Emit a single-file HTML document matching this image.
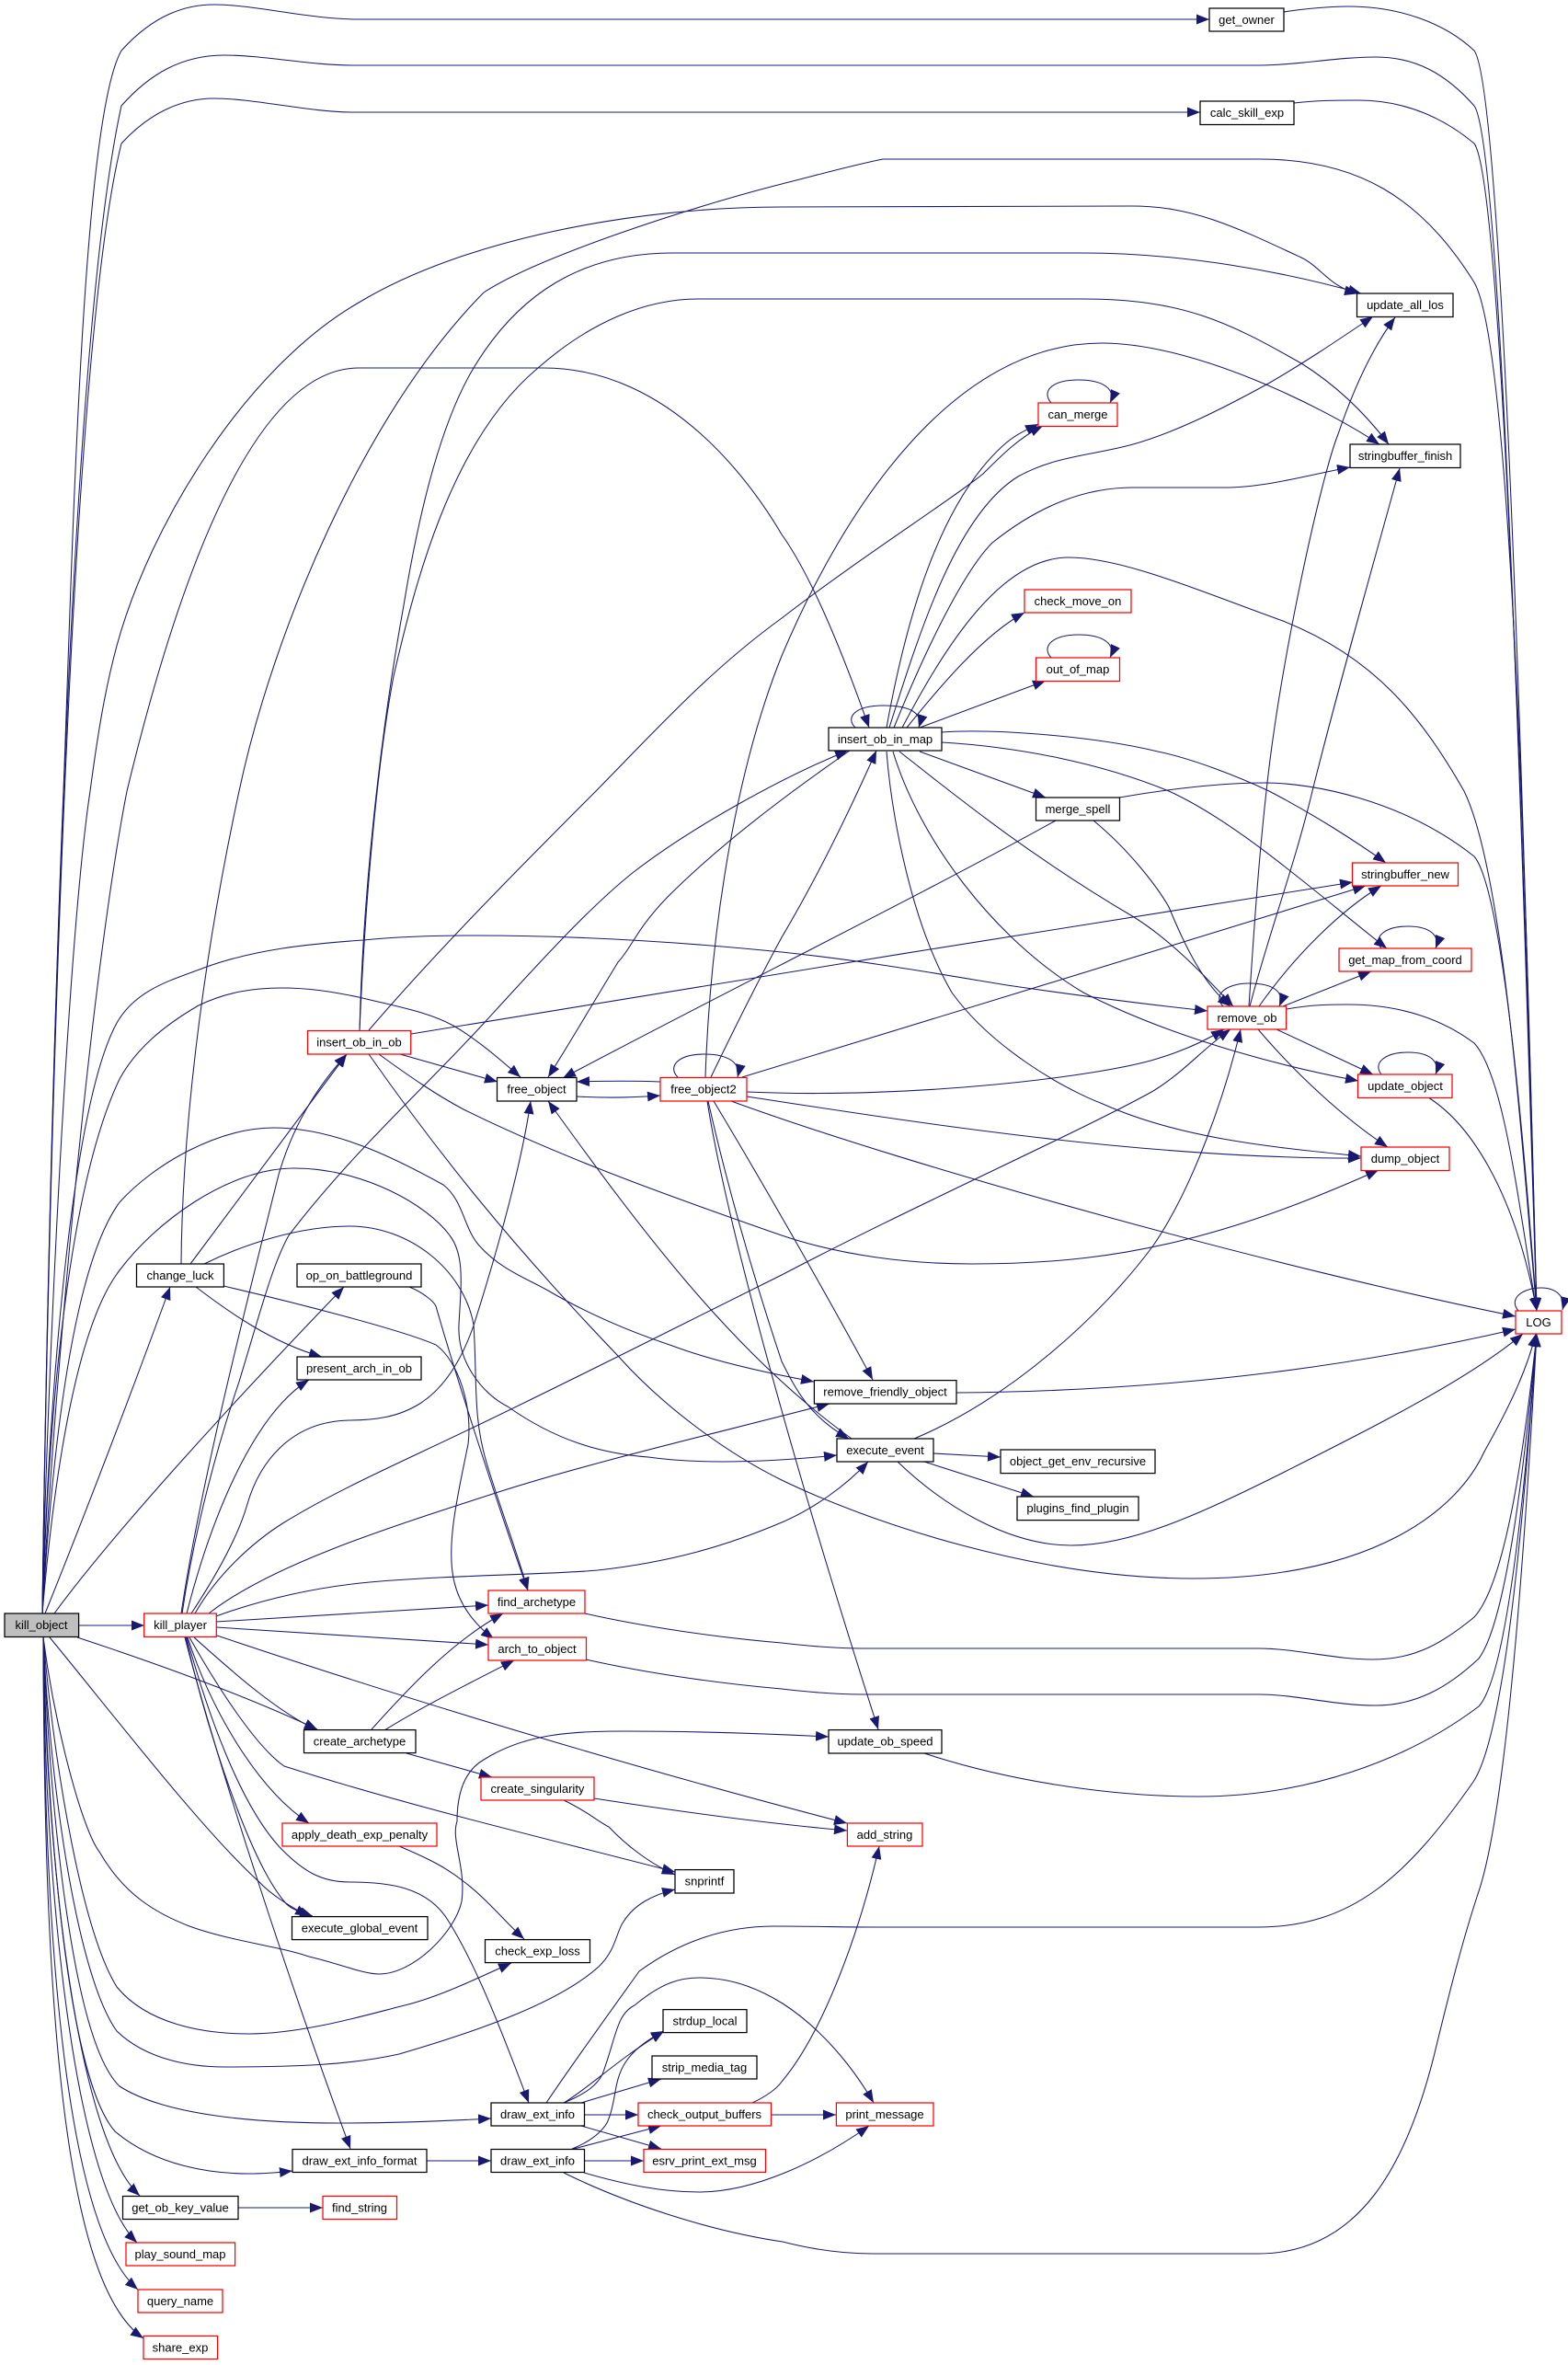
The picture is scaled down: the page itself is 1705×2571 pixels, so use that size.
<!DOCTYPE html>
<html><head><meta charset="utf-8"><style>
html,body{margin:0;padding:0;background:#fff;width:1705px;height:2571px;overflow:hidden}
svg{display:block}
text{font-family:"Liberation Sans",sans-serif;font-size:13px;text-anchor:middle;fill:#000}
.e path{fill:none;stroke:#191970;stroke-width:1.05}
.b{fill:#fff;stroke:#000;stroke-width:1.25}
.r{fill:#fff;stroke:#f00;stroke-width:1.25}
</style></head><body>
<svg xmlns="http://www.w3.org/2000/svg" width="1705" height="2571" viewBox="0 0 1705 2571">
<defs><marker id="a" markerUnits="userSpaceOnUse" markerWidth="15" markerHeight="12" refX="14" refY="5.500" orient="auto"><polygon points="0,0 14,5.500 0,11" fill="#191970"/></marker></defs>
<g class="e" marker-end="url(#a)">
<path marker-end="url(#a)" d="M46,1754 C49,1500 59,1100 69,860 C79,600 89,130 132,55 C168,15 203,5 233,5 C277,5 336,21 390,21 L1315,21"/>
<path marker-end="url(#a)" d="M46,1754 C51,1400 69,400 132,115 C163,80 198,60 244,60 C287,60 336,71 384,71 L1370,71 C1409,71 1454,62 1496,62 C1539,62 1572,80 1603,115 C1636,160 1660,1100 1671,1425"/>
<path marker-end="url(#a)" d="M1396,13 C1421,9 1449,7 1466,7 C1522,7 1571,25 1603,55 C1636,100 1660,1000 1671,1425"/>
<path marker-end="url(#a)" d="M46,1754 C51,1400 71,400 132,156 C163,122 198,107 233,107 C277,107 336,122 384,122 L1305,122"/>
<path marker-end="url(#a)" d="M1407,112 C1432,109 1455,109 1477,109 C1530,109 1572,130 1603,156 C1636,200 1660,1050 1671,1425"/>
<path marker-end="url(#a)" d="M46,1754 C51,1500 74,1020 98,860 C106,800 114,750 127,702 C163,570 267,400 390,329 C504,260 692,225 850,225 L1230,224 C1296,224 1340,245 1415,280 C1436,290 1446,312 1476,319"/>
<path marker-end="url(#a)" d="M197,1374 C198,1240 217,1060 260,860 C296,690 395,450 526,318 C583,280 751,225 850,200 C890,190 925,180 960,173 L1370,173 C1476,173 1546,215 1603,307 C1645,380 1660,1000 1671,1425"/>
<path marker-end="url(#a)" d="M46,1754 C59,1500 99,1060 138,860 C173,715 257,400 390,400 L591,400 C731,400 820,530 850,581 C885,630 920,720 945,791"/>
<path marker-end="url(#a)" d="M391,1120 C395,960 415,790 439,658 C455,560 479,460 515,400 C563,320 632,275 731,275 L1177,275 C1286,275 1395,295 1480,319"/>
<path marker-end="url(#a)" d="M391,1120 C397,980 410,830 428,735 C450,640 489,480 585,400 C642,350 702,325 759,325 L1177,325 C1286,325 1336,350 1415,395 C1455,420 1485,450 1510,483"/>
<path marker-end="url(#a)" d="M401,1120 C474,1035 563,945 648,860 C712,795 770,730 850,672 C930,610 1039,540 1069,515 C1089,495 1109,475 1134,463"/>
<path marker-end="url(#a)" d="M767,1171 C771,1050 791,860 850,713 C919,550 1037,373 1198,373 C1297,373 1435,440 1500,483"/>
<path marker-end="url(#a)" d="M198,1754 C212,1660 237,1570 260,1502 C282,1430 296,1375 314,1343 C385,1250 465,1180 531,1107 C583,1050 642,985 689,948 C751,900 850,845 922,816"/>
<path marker-end="url(#a)" d="M212,1754 C237,1710 277,1675 309,1655 C366,1620 435,1590 510,1554 C623,1500 731,1445 850,1386 C995,1310 1175,1230 1254,1186 C1288,1165 1308,1140 1338,1119"/>
<path marker-end="url(#a)" d="M227,1754 C296,1700 425,1660 542,1622 C642,1590 771,1560 902,1526"/>
<path marker-end="url(#a)" d="M235,1757 C287,1738 346,1725 402,1720 C494,1712 593,1712 650,1707 C731,1698 791,1680 850,1655 C885,1640 920,1615 944,1589"/>
<path marker-end="url(#a)" d="M46,1754 C54,1500 79,1200 127,1112 C148,1075 188,1065 222,1052 C277,1032 336,1026 395,1022 C435,1018 474,1017 515,1017 C632,1017 751,1025 850,1035 C945,1045 1028,1060 1095,1071 C1178,1083 1248,1092 1313,1099"/>
<path marker-end="url(#a)" d="M46,1754 C54,1500 79,1280 130,1173 C148,1140 178,1115 216,1093 C247,1078 277,1074 306,1074 C336,1074 361,1078 390,1084 C435,1095 465,1100 493,1115 C519,1130 544,1152 566,1171"/>
<path marker-end="url(#a)" d="M46,1754 C59,1540 84,1370 130,1307 C168,1265 237,1226 298,1226 C366,1226 435,1262 482,1288 C504,1305 504,1335 521,1354 C544,1380 573,1390 596,1403 C642,1430 692,1450 731,1463 C771,1478 820,1490 885,1502"/>
<path marker-end="url(#a)" d="M46,1754 C59,1600 84,1440 130,1381 C168,1330 247,1270 320,1270 C395,1270 465,1310 489,1343 C506,1365 501,1400 499,1440 C497,1480 524,1515 552,1529 C603,1565 652,1580 705,1584 C761,1592 830,1590 910,1582"/>
<path marker-end="url(#a)" d="M222,1374 C267,1352 326,1333 380,1333 C445,1333 504,1380 515,1440 C519,1500 514,1540 529,1590 C544,1640 560,1680 574,1729"/>
<path marker-end="url(#a)" d="M445,1399 C460,1405 472,1415 474,1420 C494,1490 539,1630 574,1729"/>
<path marker-end="url(#a)" d="M243,1398 C316,1415 435,1445 474,1462 C499,1480 514,1530 509,1570 C499,1620 484,1680 494,1720 C500,1745 515,1765 537,1782"/>
<path marker-end="url(#a)" d="M213,1399 C247,1425 296,1460 350,1475"/>
<path marker-end="url(#a)" d="M207,1374 L377,1146"/>
<path marker-end="url(#a)" d="M49,1754 C99,1630 148,1500 185,1399"/>
<path marker-end="url(#a)" d="M59,1754 C128,1660 267,1510 374,1399"/>
<path marker-end="url(#a)" d="M197,1754 C217,1620 262,1440 303,1277 C321,1215 351,1175 377,1146"/>
<path marker-end="url(#a)" d="M203,1754 C227,1660 272,1540 336,1500"/>
<path marker-end="url(#a)" d="M208,1754 C237,1710 259,1670 269,1635 C282,1590 316,1545 380,1544 C435,1544 484,1530 515,1441 C544,1350 568,1260 577,1197"/>
<path marker-end="url(#a)" d="M47,1780 C60,1880 90,1990 108,2013 C135,2060 170,2080 206,2094 C250,2110 300,2115 336,2127 C370,2135 395,2146 412,2146 C450,2146 495,2100 502,2067 C507,2030 490,2000 497,1980 C497,1950 505,1925 526,1913 C570,1885 620,1882 680,1882 C750,1882 820,1884 901,1888"/>
<path marker-end="url(#a)" d="M54,1780 C120,1860 220,1990 282,2046 C295,2060 315,2072 335,2083"/>
<path marker-end="url(#a)" d="M84,1780 C160,1805 260,1840 345,1880"/>
<path marker-end="url(#a)" d="M86,1767 L157,1767"/>
<path marker-end="url(#a)" d="M47,1780 C60,1930 90,2100 127,2160 C160,2200 220,2211 271,2211 C330,2211 400,2190 440,2180 C480,2170 520,2150 556,2134"/>
<path marker-end="url(#a)" d="M47,1780 C55,1950 85,2150 127,2208 C160,2240 210,2247 244,2247 C320,2247 380,2245 434,2233 C530,2205 610,2175 651,2138 C670,2120 670,2100 678,2089 C690,2070 710,2060 734,2054"/>
<path marker-end="url(#a)" d="M47,1780 C55,1980 80,2220 130,2268 C180,2300 280,2308 369,2308 C430,2308 480,2306 534,2303"/>
<path marker-end="url(#a)" d="M47,1780 C52,2000 75,2260 125,2317 C170,2355 230,2363 271,2363 C285,2363 300,2362 318,2360"/>
<path marker-end="url(#a)" d="M47,1780 C50,2000 80,2320 152,2387"/>
<path marker-end="url(#a)" d="M47,1780 C48,2050 80,2370 149,2438"/>
<path marker-end="url(#a)" d="M47,1780 C48,2100 70,2420 150,2489"/>
<path marker-end="url(#a)" d="M47,1780 C48,2150 65,2480 156,2542"/>
<path marker-end="url(#a)" d="M235,1763 L531,1745"/>
<path marker-end="url(#a)" d="M235,1769 L531,1788"/>
<path marker-end="url(#a)" d="M211,1780 C250,1815 300,1860 345,1881"/>
<path marker-end="url(#a)" d="M236,1778 C450,1850 700,1925 921,1982"/>
<path marker-end="url(#a)" d="M206,1780 C240,1840 280,1900 309,1920 C450,1965 600,2000 734,2035"/>
<path marker-end="url(#a)" d="M204,1780 C230,1860 280,1945 336,1982"/>
<path marker-end="url(#a)" d="M202,1780 C225,1880 270,2020 309,2067 C315,2075 325,2078 340,2083"/>
<path marker-end="url(#a)" d="M203,1780 C225,1860 260,1960 304,2008 C330,2035 350,2046 380,2046 C420,2046 465,2050 488,2089 C520,2140 550,2220 575,2286"/>
<path marker-end="url(#a)" d="M201,1780 C240,1930 320,2170 381,2336"/>
<path marker-end="url(#a)" d="M435,1146 L541,1176"/>
<path marker-end="url(#a)" d="M447,1124 C692,1085 1197,1000 1471,959"/>
<path marker-end="url(#a)" d="M401,1146 C474,1250 553,1350 672,1474 C722,1530 791,1580 850,1609 C945,1655 1127,1716 1297,1716 C1496,1716 1586,1640 1614,1578 C1641,1530 1660,1490 1670,1450"/>
<path marker-end="url(#a)" d="M412,1146 C445,1170 474,1190 504,1206 C613,1260 741,1305 850,1343 C915,1365 988,1374 1057,1374 C1149,1374 1219,1365 1287,1348 C1367,1328 1436,1300 1499,1272"/>
<path marker-end="url(#a)" d="M627,1192 C662,1194 692,1193 718,1191"/>
<path marker-end="url(#a)" d="M718,1176 C692,1175 662,1175 627,1176"/>
<path marker-end="url(#a)" d="M737,1171 C726,1160 736,1146 766,1146 C791,1146 806,1155 802,1171"/>
<path marker-end="url(#a)" d="M773,1171 C800,1115 825,1065 850,1019 C885,960 920,890 953,816"/>
<path marker-end="url(#a)" d="M807,1171 C995,1115 1297,1020 1485,963"/>
<path marker-end="url(#a)" d="M812,1187 C995,1195 1197,1170 1258,1151 C1288,1142 1313,1130 1331,1119"/>
<path marker-end="url(#a)" d="M812,1192 C995,1220 1246,1260 1480,1259"/>
<path marker-end="url(#a)" d="M795,1197 C995,1270 1395,1380 1648,1431"/>
<path marker-end="url(#a)" d="M776,1197 C820,1270 895,1400 949,1500"/>
<path marker-end="url(#a)" d="M770,1197 C791,1290 820,1390 850,1480 C865,1510 880,1540 923,1564"/>
<path marker-end="url(#a)" d="M769,1197 C790,1330 865,1600 955,1880"/>
<path marker-end="url(#a)" d="M926,1564 C795,1470 692,1330 596,1197"/>
<path marker-end="url(#a)" d="M994,1564 C1099,1520 1198,1430 1254,1354 C1298,1290 1332,1190 1349,1119"/>
<path marker-end="url(#a)" d="M1015,1580 L1088,1584"/>
<path marker-end="url(#a)" d="M1005,1589 L1124,1627"/>
<path marker-end="url(#a)" d="M976,1589 C1029,1640 1099,1680 1165,1680 C1228,1680 1297,1650 1397,1600 C1496,1550 1596,1500 1656,1450"/>
<path marker-end="url(#a)" d="M1040,1514 C1298,1512 1496,1480 1648,1445"/>
<path marker-end="url(#a)" d="M930,791 C919,780 929,767 961,767 C989,767 1004,775 999,791"/>
<path marker-end="url(#a)" d="M964,791 C984,680 1019,550 1090,485 C1104,472 1119,466 1129,461"/>
<path marker-end="url(#a)" d="M967,791 C999,690 1039,560 1107,518 C1149,495 1189,495 1232,483 C1278,470 1328,445 1379,417 C1417,395 1447,375 1493,344"/>
<path marker-end="url(#a)" d="M972,791 C1009,700 1049,620 1079,590 C1129,550 1179,530 1232,530 C1288,530 1298,530 1331,530 C1378,530 1428,515 1468,508"/>
<path marker-end="url(#a)" d="M981,791 C1029,700 1089,606 1162,606 C1219,606 1298,640 1395,675 C1496,715 1546,780 1592,860 C1636,950 1655,1250 1671,1425"/>
<path marker-end="url(#a)" d="M986,791 C1019,750 1069,690 1114,666"/>
<path marker-end="url(#a)" d="M1000,791 L1137,740"/>
<path marker-end="url(#a)" d="M1143,715 C1132,703 1144,690 1173,690 C1199,690 1214,700 1207,715"/>
<path marker-end="url(#a)" d="M1143,438 C1132,425 1144,413 1173,413 C1199,413 1214,423 1207,438"/>
<path marker-end="url(#a)" d="M1000,817 L1137,867"/>
<path marker-end="url(#a)" d="M1217,867 C1268,858 1328,851 1375,851 C1428,851 1526,870 1603,931 C1636,970 1660,1280 1671,1425"/>
<path marker-end="url(#a)" d="M1148,892 C998,975 775,1085 612,1172"/>
<path marker-end="url(#a)" d="M1189,892 C1229,925 1259,965 1271,986 C1289,1030 1309,1070 1338,1094"/>
<path marker-end="url(#a)" d="M924,816 C875,850 791,910 726,975 C692,1010 687,1030 672,1046 C642,1095 622,1130 596,1171"/>
<path marker-end="url(#a)" d="M1024,796 C1079,792 1189,800 1259,817 C1298,825 1348,845 1380,860 C1428,885 1475,915 1507,938"/>
<path marker-end="url(#a)" d="M1024,807 C1109,812 1198,830 1271,860 C1348,895 1436,975 1508,1031"/>
<path marker-end="url(#a)" d="M978,817 C1039,865 1119,930 1233,997 C1278,1025 1318,1070 1341,1094"/>
<path marker-end="url(#a)" d="M971,817 C999,910 1079,1020 1178,1079 C1278,1130 1397,1160 1477,1175"/>
<path marker-end="url(#a)" d="M964,817 C969,880 989,1000 1035,1079 C1079,1140 1159,1185 1199,1200 C1288,1240 1397,1248 1480,1257"/>
<path marker-end="url(#a)" d="M1330,1094 C1318,1082 1333,1069 1358,1069 C1387,1069 1397,1080 1391,1094"/>
<path marker-end="url(#a)" d="M1359,1094 C1378,1020 1408,940 1427,860 C1457,740 1497,600 1522,509"/>
<path marker-end="url(#a)" d="M1358,1094 C1363,1020 1368,940 1377,860 C1392,720 1436,520 1455,472 C1471,425 1491,380 1517,345"/>
<path marker-end="url(#a)" d="M1369,1094 C1407,1040 1457,990 1502,963"/>
<path marker-end="url(#a)" d="M1395,1094 L1491,1056"/>
<path marker-end="url(#a)" d="M1399,1097 C1427,1092 1447,1092 1466,1092 C1526,1092 1571,1110 1603,1134 C1636,1170 1651,1310 1671,1425"/>
<path marker-end="url(#a)" d="M1388,1119 L1493,1168"/>
<path marker-end="url(#a)" d="M1368,1119 C1407,1165 1460,1215 1509,1247"/>
<path marker-end="url(#a)" d="M1502,1168 C1492,1155 1507,1144 1531,1144 C1556,1144 1566,1155 1561,1168"/>
<path marker-end="url(#a)" d="M1502,1031 C1492,1018 1507,1007 1531,1007 C1556,1007 1566,1018 1561,1031"/>
<path marker-end="url(#a)" d="M1553,1193 C1596,1220 1646,1290 1671,1425"/>
<path marker-end="url(#a)" d="M1651,1425 C1640,1412 1655,1400 1676,1400 C1690,1400 1703,1408 1699,1424"/>
<path marker-end="url(#a)" d="M636,1754 C698,1768 778,1780 850,1786 C900,1792 930,1792 948,1792 L1368,1792 C1410,1792 1450,1804 1493,1804 C1540,1804 1570,1785 1603,1758 C1638,1720 1658,1570 1671,1450"/>
<path marker-end="url(#a)" d="M637,1804 C699,1818 779,1830 850,1836 C900,1842 930,1842 948,1842 L1368,1842 C1410,1842 1450,1854 1496,1854 C1540,1854 1575,1834 1608,1803 C1640,1760 1660,1570 1671,1450"/>
<path marker-end="url(#a)" d="M1005,1906 C1090,1934 1200,1953 1303,1953 C1420,1953 1530,1914 1608,1855 C1640,1820 1660,1600 1671,1450"/>
<path marker-end="url(#a)" d="M594,2286 C625,2240 665,2185 695,2143 C740,2110 790,2094 841,2094 C880,2094 920,2095 948,2095 L1368,2095 C1470,2095 1530,2040 1602,1937 C1640,1880 1660,1600 1671,1450"/>
<path marker-end="url(#a)" d="M613,2362 C680,2395 770,2425 851,2437 C890,2447 920,2450 948,2450 L1368,2450 C1480,2450 1530,2350 1559,2236 C1575,2170 1590,2110 1608,2056 C1640,1960 1660,1650 1671,1450"/>
<path marker-end="url(#a)" d="M646,1955 C730,1968 830,1982 921,1990"/>
<path marker-end="url(#a)" d="M613,1957 C640,1970 650,1980 662,1986 C680,2005 705,2025 734,2038"/>
<path marker-end="url(#a)" d="M404,1880 C440,1840 490,1785 547,1754"/>
<path marker-end="url(#a)" d="M418,1881 C460,1855 510,1830 559,1805"/>
<path marker-end="url(#a)" d="M442,1906 L535,1932"/>
<path marker-end="url(#a)" d="M434,2007 C465,2020 485,2030 505,2046 C530,2065 550,2090 570,2108"/>
<path marker-end="url(#a)" d="M259,2400 L351,2400"/>
<path marker-end="url(#a)" d="M464,2349 L534,2349"/>
<path marker-end="url(#a)" d="M613,2286 C640,2270 670,2240 722,2208"/>
<path marker-end="url(#a)" d="M632,2286 L719,2260"/>
<path marker-end="url(#a)" d="M635,2299 L694,2299"/>
<path marker-end="url(#a)" d="M632,2311 L719,2336"/>
<path marker-end="url(#a)" d="M613,2286 C640,2275 650,2265 655,2255 C670,2215 670,2190 690,2180 C720,2155 740,2150 760,2150 C800,2150 830,2165 851,2178 C890,2203 925,2243 950,2286"/>
<path marker-end="url(#a)" d="M622,2336 C650,2325 660,2310 662,2303 C675,2270 660,2240 722,2208"/>
<path marker-end="url(#a)" d="M624,2336 L719,2311"/>
<path marker-end="url(#a)" d="M635,2349 L700,2349"/>
<path marker-end="url(#a)" d="M635,2362 C680,2375 720,2383 760,2383 C820,2383 890,2350 945,2311"/>
<path marker-end="url(#a)" d="M818,2286 C835,2278 845,2270 850,2263 C895,2210 935,2100 956,2007"/>
<path marker-end="url(#a)" d="M838,2299 L909,2299"/>
</g>
<rect x="5" y="1754" width="80.6" height="25.500" fill="#bfbfbf" stroke="#000" stroke-width="1.25"/><text x="45" y="1771">kill_object</text>
<rect class="b" x="1315" y="9" width="81" height="25"/><text x="1355.500" y="26">get_owner</text>
<rect class="b" x="1305" y="110" width="102" height="25.500"/><text x="1356" y="127">calc_skill_exp</text>
<rect class="b" x="1475.500" y="319" width="104.500" height="25.500"/><text x="1528" y="336">update_all_los</text>
<rect class="b" x="1468" y="483" width="120" height="25.500"/><text x="1528" y="500">stringbuffer_finish</text>
<rect class="r" x="1129" y="438" width="86" height="25.500"/><text x="1172" y="455">can_merge</text>
<rect class="r" x="1114" y="641" width="116" height="25"/><text x="1172" y="658">check_move_on</text>
<rect class="r" x="1126.500" y="715" width="91" height="25.500"/><text x="1172" y="732">out_of_map</text>
<rect class="b" x="901" y="791" width="123" height="25"/><text x="962.500" y="808">insert_ob_in_map</text>
<rect class="b" x="1126.500" y="867" width="91" height="25"/><text x="1172" y="884">merge_spell</text>
<rect class="r" x="1470.500" y="938" width="115" height="25"/><text x="1528" y="955">stringbuffer_new</text>
<rect class="r" x="1456" y="1031" width="144" height="25"/><text x="1528" y="1048">get_map_from_coord</text>
<rect class="r" x="1313" y="1094" width="85.600" height="25"/><text x="1356" y="1111">remove_ob</text>
<rect class="r" x="1476.500" y="1168" width="102.500" height="25.500"/><text x="1528" y="1185">update_object</text>
<rect class="r" x="1480" y="1247" width="96" height="25.500"/><text x="1528" y="1264">dump_object</text>
<rect class="r" x="1648" y="1425" width="50" height="25"/><text x="1673" y="1442">LOG</text>
<rect class="b" x="885.400" y="1500.600" width="154.600" height="25.400"/><text x="962.500" y="1517.500">remove_friendly_object</text>
<rect class="b" x="910" y="1564" width="105" height="25"/><text x="962.500" y="1581">execute_event</text>
<rect class="b" x="1088" y="1576" width="168" height="25.600"/><text x="1172" y="1593">object_get_env_recursive</text>
<rect class="b" x="1106" y="1627" width="132" height="25.600"/><text x="1172" y="1644">plugins_find_plugin</text>
<rect class="r" x="334.500" y="1120.500" width="112.200" height="25.500"/><text x="390.500" y="1137.500">insert_ob_in_ob</text>
<rect class="b" x="540.500" y="1171.500" width="86.500" height="25.500"/><text x="583.500" y="1188.500">free_object</text>
<rect class="r" x="718" y="1171.500" width="94" height="25.500"/><text x="765" y="1188.500">free_object2</text>
<rect class="b" x="148.500" y="1374" width="94.900" height="25"/><text x="196" y="1391">change_luck</text>
<rect class="b" x="323" y="1374" width="135" height="25"/><text x="390.500" y="1391">op_on_battleground</text>
<rect class="b" x="323" y="1475" width="135" height="25"/><text x="390.500" y="1492">present_arch_in_ob</text>
<rect class="r" x="156.700" y="1754" width="78.600" height="25.500"/><text x="196" y="1771">kill_player</text>
<rect class="r" x="531" y="1729" width="105" height="25"/><text x="583.500" y="1746">find_archetype</text>
<rect class="r" x="531" y="1780" width="106.500" height="25"/><text x="584" y="1797">arch_to_object</text>
<rect class="b" x="330.500" y="1880.600" width="121.500" height="25"/><text x="391" y="1897.500">create_archetype</text>
<rect class="r" x="523" y="1932" width="123" height="25"/><text x="584.500" y="1949">create_singularity</text>
<rect class="r" x="307" y="1982" width="168" height="25"/><text x="391" y="1999">apply_death_exp_penalty</text>
<rect class="b" x="734" y="2032.600" width="64" height="25.400"/><text x="766" y="2049.500">snprintf</text>
<rect class="b" x="317.500" y="2083.600" width="147.500" height="25"/><text x="391" y="2100.500">execute_global_event</text>
<rect class="b" x="527.500" y="2108.600" width="114" height="25"/><text x="584.500" y="2125.500">check_exp_loss</text>
<rect class="b" x="721" y="2184.600" width="91" height="25"/><text x="766.500" y="2201.500">strdup_local</text>
<rect class="b" x="709" y="2235" width="114" height="25"/><text x="766" y="2252">strip_media_tag</text>
<rect class="b" x="534" y="2286" width="101.500" height="25"/><text x="584.500" y="2303">draw_ext_info</text>
<rect class="r" x="694" y="2286" width="144.500" height="25"/><text x="766" y="2303">check_output_buffers</text>
<rect class="b" x="318" y="2336.500" width="146" height="25"/><text x="391" y="2353.500">draw_ext_info_format</text>
<rect class="b" x="534" y="2336.500" width="101.500" height="25"/><text x="584.500" y="2353.500">draw_ext_info</text>
<rect class="r" x="700" y="2336.500" width="132.500" height="25"/><text x="766" y="2353.500">esrv_print_ext_msg</text>
<rect class="b" x="133.500" y="2387.500" width="125.500" height="25"/><text x="196" y="2404.500">get_ob_key_value</text>
<rect class="r" x="351" y="2387.500" width="80.500" height="25"/><text x="391" y="2404.500">find_string</text>
<rect class="r" x="137" y="2438" width="118.600" height="25"/><text x="196" y="2455">play_sound_map</text>
<rect class="r" x="150" y="2489" width="92" height="25"/><text x="196" y="2506">query_name</text>
<rect class="r" x="156" y="2539.500" width="80.600" height="25"/><text x="196" y="2556.500">share_exp</text>
<rect class="b" x="901" y="1880.600" width="123" height="25.400"/><text x="962.500" y="1897.500">update_ob_speed</text>
<rect class="r" x="921.400" y="1982" width="81.600" height="25"/><text x="962" y="1999">add_string</text>
<rect class="r" x="909.400" y="2286" width="105.600" height="25"/><text x="962" y="2303">print_message</text>
</svg>
</body></html>
